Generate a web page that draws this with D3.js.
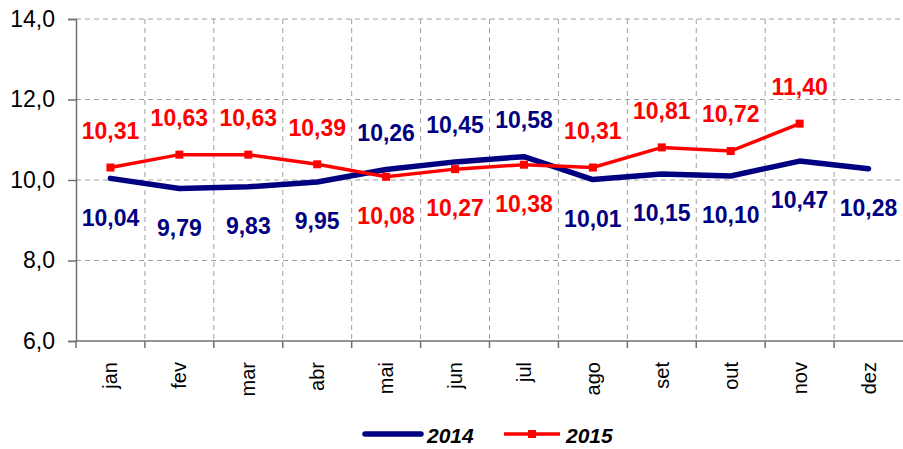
<html>
<head>
<meta charset="utf-8">
<script src="https://d3js.org/d3.v7.min.js"></script>
<style>
  body { margin: 0; background: #fff; }
  text { font-family: "Liberation Sans", Arial, sans-serif; }
</style>
</head>
<body>
<svg width="903" height="449"></svg>
<script>
var months = ["jan","fev","mar","abr","mai","jun","jul","ago","set","out","nov","dez"];
var v2014 = [10.04, 9.79, 9.83, 9.95, 10.26, 10.45, 10.58, 10.01, 10.15, 10.10, 10.47, 10.28];
var v2015 = [10.31, 10.63, 10.63, 10.39, 10.08, 10.27, 10.38, 10.31, 10.81, 10.72, 11.40];
var yTicks = [6, 8, 10, 12, 14];
// which labels sit above the line (true) or below (false)
var up2014 = [false,false,false,false,true,true,true,false,false,false,false,false];
var up2015 = [true,true,true,true,false,false,false,true,true,true,true];

var fmt = function(v, d) { return v.toFixed(d).replace(".", ","); };

var svg = d3.select("svg");
var pL = 76, pR = 903, pT = 19, pB = 341;

var x = d3.scaleBand().domain(months).range([pL, pR]);
var y = d3.scaleLinear().domain([6, 14]).range([pB, pT]);

// grid
var grid = svg.append("g");
grid.selectAll(".hg").data(yTicks.slice(1)).enter().append("line")
  .attr("x1", pL).attr("x2", pR)
  .attr("y1", function(d){ return y(d); }).attr("y2", function(d){ return y(d); })
  .attr("stroke", "#a0a0a0").attr("stroke-dasharray", "5,4");
grid.selectAll(".vg").data(months.slice(1)).enter().append("line")
  .attr("x1", function(d){ return x(d); }).attr("x2", function(d){ return x(d); })
  .attr("y1", pT).attr("y2", pB)
  .attr("stroke", "#a0a0a0").attr("stroke-dasharray", "5,4");

// axes
var yAxis = d3.axisLeft(y).tickValues(yTicks).tickSize(8).tickPadding(13)
  .tickFormat(function(d){ return fmt(d, 1); });
var gy = svg.append("g").attr("transform", "translate(" + pL + ",0)").call(yAxis);
gy.selectAll("path, line").attr("stroke", "#707070").attr("stroke-width", 1.5);
gy.selectAll("text").attr("font-size", 23).attr("fill", "#000")
  .attr("font-family", "Liberation Sans, Arial, sans-serif");

svg.append("line").attr("x1", pL).attr("x2", pR).attr("y1", pB).attr("y2", pB)
  .attr("stroke", "#707070").attr("stroke-width", 1.5);
svg.selectAll(".xt").data(months).enter().append("line")
  .attr("x1", function(d){ return x(d); }).attr("x2", function(d){ return x(d); })
  .attr("y1", pB).attr("y2", pB + 7)
  .attr("stroke", "#707070").attr("stroke-width", 1.5);
svg.selectAll(".xl").data(months).enter().append("text")
  .attr("transform", function(d){ return "translate(" + (x(d) + x.bandwidth() / 2 + 7) + "," + (pB + 21) + ") rotate(-90)"; })
  .attr("text-anchor", "end").attr("font-size", 20).attr("fill", "#000")
  .text(function(d){ return d; });

// lines
var line = d3.line()
  .x(function(d, i){ return x(months[i]) + x.bandwidth() / 2; })
  .y(function(d){ return y(d); });

svg.append("path").datum(v2014).attr("d", line)
  .attr("fill", "none").attr("stroke", "#000080").attr("stroke-width", 5.5)
  .attr("stroke-linejoin", "round").attr("stroke-linecap", "round");
svg.append("path").datum(v2015).attr("d", line)
  .attr("fill", "none").attr("stroke", "#ff0000").attr("stroke-width", 3.5);
svg.selectAll(".mk").data(v2015).enter().append("rect")
  .attr("x", function(d, i){ return x(months[i]) + x.bandwidth() / 2 - 4; })
  .attr("y", function(d){ return y(d) - 4; })
  .attr("width", 8).attr("height", 8).attr("fill", "#ff0000");

// data labels
function labels(data, up, color) {
  svg.selectAll(null).data(data).enter().append("text")
    .attr("x", function(d, i){ return x(months[i]) + x.bandwidth() / 2; })
    .attr("y", function(d, i){ return y(d) + (up[i] ? -37 : 39); })
    .attr("dy", "0.36em")
    .attr("text-anchor", "middle").attr("font-size", 23).attr("font-weight", "bold")
    .attr("fill", color)
    .text(function(d){ return fmt(d, 2); });
}
labels(v2014, up2014, "#000080");
labels(v2015, up2015, "#ff0000");

// legend
var lg = svg.append("g");
lg.append("line").attr("x1", 365).attr("x2", 421).attr("y1", 434).attr("y2", 434)
  .attr("stroke", "#000080").attr("stroke-width", 5.5).attr("stroke-linecap", "round");
lg.append("text").attr("x", 427).attr("y", 443).attr("font-size", 21)
  .attr("font-weight", "bold").attr("font-style", "italic").text("2014");
lg.append("line").attr("x1", 504).attr("x2", 560).attr("y1", 434).attr("y2", 434)
  .attr("stroke", "#ff0000").attr("stroke-width", 3.5);
lg.append("rect").attr("x", 528).attr("y", 430).attr("width", 8).attr("height", 8).attr("fill", "#ff0000");
lg.append("text").attr("x", 566).attr("y", 443).attr("font-size", 21)
  .attr("font-weight", "bold").attr("font-style", "italic").text("2015");
</script>
</body>
</html>
